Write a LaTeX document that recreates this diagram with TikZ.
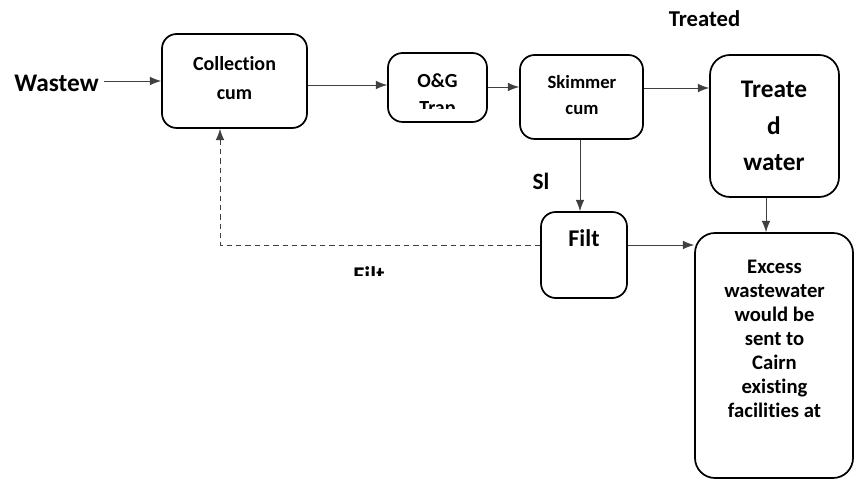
\documentclass[tikz,border=0pt]{standalone}
\usepackage{fontspec}
\setmainfont{Carlito}[Ligatures={NoCommon,NoContextual}]
\usetikzlibrary{arrows.meta}
\begin{document}
\begin{tikzpicture}[x=0.75pt,y=-0.75pt,
  box/.style={draw=black,line width=1.3pt,rounded corners=11pt,inner sep=0pt},
  txt/.style={align=center,inner sep=0pt},
  arr/.style={draw=black!75,line width=0.6pt,-{Latex[length=8.5pt,width=6.5pt]}},
  fb/.style={arr,dash pattern=on 4pt off 3pt}]
\useasboundingbox[fill=white] (0,0) rectangle (861,484);
% boxes
\node[box,minimum width=108.75pt,minimum height=70.5pt] (coll) at (234.5,81) {};
\node[box,minimum width=74.25pt,minimum height=51.75pt] (og) at (437.5,87.5) {};
\node[box,minimum width=92.25pt,minimum height=63pt] (skim) at (581.5,97) {};
\node[box,rounded corners=15pt,minimum width=96.75pt,minimum height=106.5pt] (tw) at (774.5,126) {};
\node[box,minimum width=64.5pt,minimum height=64.5pt] (filt) at (584,255) {};
\node[box,rounded corners=15pt,minimum width=118.5pt,minimum height=183.75pt] (exc) at (774,355.5) {};
% texts
\node[txt,font=\bfseries\fontsize{19}{23}\selectfont,anchor=base] (ww) at (56.5,92) {Wastew};
\node[txt,font=\bfseries\fontsize{15}{22}\selectfont] (collT) at (234.5,78) {Collection\\cum};
\node[txt,font=\bfseries\fontsize{15}{20}\selectfont,anchor=base] (ogT) at (437.5,88) {O\&G};
\begin{scope}
  \clip (390,60) rectangle (485,108.5);
  \node[txt,font=\bfseries\fontsize{15}{20}\selectfont,anchor=base] (trapT) at (437.5,115) {Trap};
\end{scope}
\node[txt,font=\bfseries\fontsize{14}{19.5}\selectfont] (skimT) at (582,95) {Skimmer\\cum};
\node[txt,font=\bfseries\fontsize{19}{27.5}\selectfont] (twT) at (774,126) {Treate\\d\\water};
\node[txt,font=\bfseries\fontsize{18}{22}\selectfont,anchor=base] (filtT) at (584,247) {Filt};
\node[txt,font=\bfseries\fontsize{15.5}{18}\selectfont] (excT) at (774.5,339) {Excess\\wastewater\\would be\\sent to\\Cairn\\existing\\facilities at};
\node[txt,font=\bfseries\fontsize{17}{20}\selectfont,anchor=base] (treatedL) at (704.5,27) {Treated};
\node[txt,font=\bfseries\fontsize{17.5}{20}\selectfont,anchor=base] (slL) at (541,190) {Sl};
\begin{scope}
  \clip (340,255) rectangle (400,276);
  \node[txt,font=\bfseries\fontsize{18}{22}\selectfont,anchor=base] (filtL) at (369,283.5) {Filt};
\end{scope}
% connectors
\draw[arr] ([xshift=4pt]ww.east |- coll.west) -- (coll.west);
\draw[arr] (coll.east |- 0,85) -- (og.west |- 0,85);
\draw[arr] (og.east |- 0,87) -- (skim.west |- 0,87);
\draw[arr] (skim.east |- 0,88) -- (tw.west |- 0,88);
\draw[arr] (tw.south -| 766,0) -- (exc.north -| 766,0);
\draw[arr] (skim.south -| 580,0) -- (filt.north -| 580,0);
\draw[arr] (filt.east |- 0,245) -- (exc.west |- 0,245);
\draw[fb] (filt.west |- 0,245) -| (coll.south -| 220,0);
\end{tikzpicture}
\end{document}
